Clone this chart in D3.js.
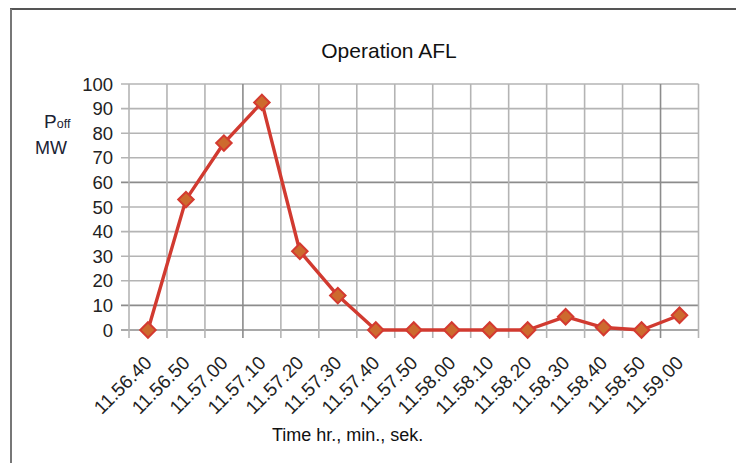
<!DOCTYPE html>
<html><head><meta charset="utf-8">
<script src="https://cdn.jsdelivr.net/npm/d3@7"></script>
<style>body{margin:0;background:#fff}svg{display:block}</style>
</head><body>
<svg id="c" width="736" height="463"></svg>
<script>
const categories = ["11.56.40","11.56.50","11.57.00","11.57.10","11.57.20","11.57.30","11.57.40","11.57.50","11.58.00","11.58.10","11.58.20","11.58.30","11.58.40","11.58.50","11.59.00"];
const values = [0, 53, 76, 92.5, 32, 14, 0, 0, 0, 0, 0, 5.4, 1, 0, 6];
const yTicks = [0,10,20,30,40,50,60,70,80,90,100];
const title = "Operation AFL";
const xTitle = "Time hr., min., sek.";

const svg = d3.select("#c");
const font = "'Liberation Sans', Arial, sans-serif";
const L = 129, R = 698.5, T = 84, B = 330;

// frame
svg.append("line").attr("x1",10).attr("x2",736).attr("y1",9).attr("y2",9).attr("stroke","#555").attr("stroke-width",2);
svg.append("line").attr("x1",11).attr("x2",11).attr("y1",9).attr("y2",463).attr("stroke","#777").attr("stroke-width",2);

const x = d3.scaleBand().domain(categories).range([L,R]).paddingInner(0).paddingOuter(0);
const y = d3.scaleLinear().domain([0,100]).range([B,T]);

// gridlines horizontal
const g = svg.append("g");
g.selectAll("line.h").data(yTicks).join("line")
  .attr("x1",L-8).attr("x2",R).attr("y1",d=>y(d)).attr("y2",d=>y(d))
  .attr("stroke",d=> (d===60||d===10||d===0) ? "#8c8c8c" : "#b4b4b4").attr("stroke-width",1.6);
// vertical gridlines at band boundaries
const bounds = categories.map(c=>x(c)).concat([R]);
g.selectAll("line.v").data(bounds).join("line")
  .attr("x1",d=>d).attr("x2",d=>d).attr("y1",T).attr("y2",B+8)
  .attr("stroke",(d,i)=> (i===3||i===14) ? "#8c8c8c" : "#b4b4b4").attr("stroke-width",1.6);

// y tick labels
svg.append("g").selectAll("text").data(yTicks).join("text")
  .attr("x",113).attr("y",d=>y(d)+6.5).attr("text-anchor","end")
  .attr("font-family",font).attr("font-size",18.5).attr("fill","#222").text(d=>d);

// x tick labels
svg.append("g").selectAll("text").data(categories).join("text")
  .attr("transform",d=>`translate(${x(d)+x.bandwidth()/2+5},${B+34}) rotate(-45)`)
  .attr("text-anchor","end")
  .attr("font-family",font).attr("font-size",19).attr("fill","#222").text(d=>d);

// title
svg.append("text").attr("x",389).attr("y",58).attr("text-anchor","middle")
  .attr("font-family",font).attr("font-size",21).attr("fill","#111").text(title);

// x axis title
svg.append("text").attr("x",272).attr("y",441)
  .attr("font-family",font).attr("font-size",18).attr("fill","#111").text(xTitle);

// y axis title
const yt = svg.append("text").attr("font-family",font).attr("fill","#1a2233");
yt.append("tspan").attr("x",44).attr("y",128).attr("font-size",19).text("P");
yt.append("tspan").attr("font-size",12.5).attr("dy",0).text("off");
svg.append("text").attr("x",35).attr("y",154).attr("font-family",font).attr("font-size",18).attr("fill","#1a2233").text("MW");

// line
const cx = (d,i)=> x(categories[i]) + x.bandwidth()/2;
const line = d3.line().x((d,i)=>cx(d,i)).y(d=>y(d));
svg.append("path").datum(values).attr("d",line).attr("fill","none")
  .attr("stroke","#d13a30").attr("stroke-width",3.4).attr("stroke-linejoin","round");

// markers
const sym = d3.symbol().type(d3.symbolSquare).size(120);
svg.append("g").selectAll("path").data(values).join("path")
  .attr("d",sym)
  .attr("transform",(d,i)=>`translate(${cx(d,i)},${y(d)}) rotate(45)`)
  .attr("fill","#cd6a2e").attr("stroke","#d43a30").attr("stroke-width",2);
</script>
</body></html>
